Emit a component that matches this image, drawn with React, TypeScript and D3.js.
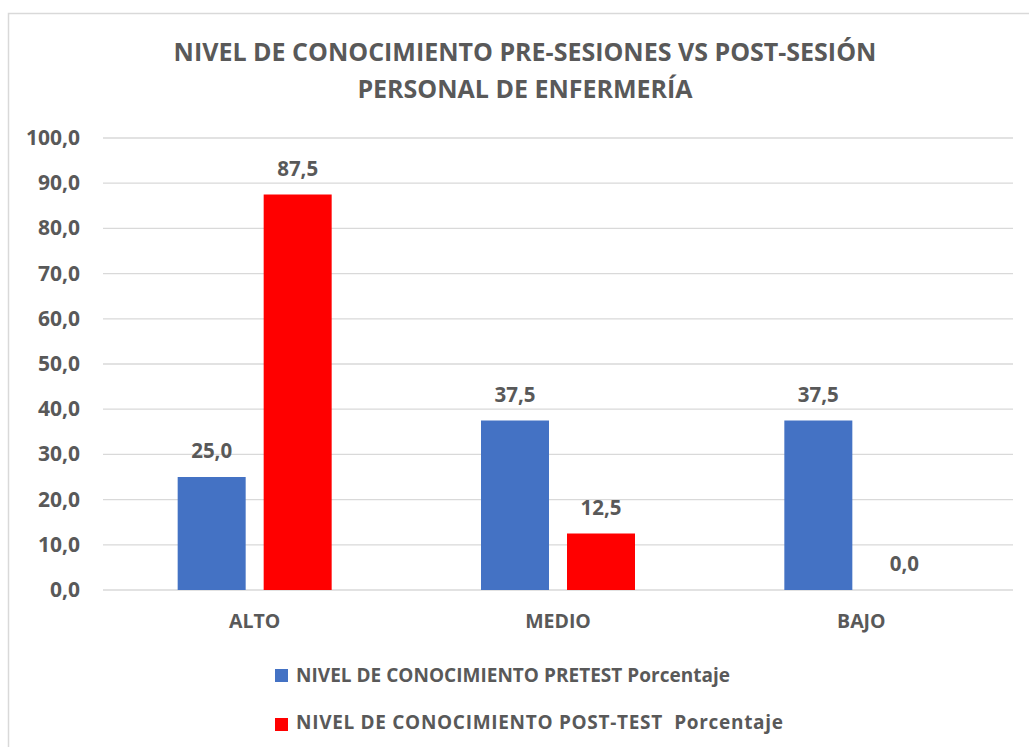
import React from "react";
import * as d3 from "d3";

const categories = ["ALTO", "MEDIO", "BAJO"];
const pretest = [25.0, 37.5, 37.5];
const posttest = [87.5, 12.5, 0.0];
const seriesNames = [
  "NIVEL DE CONOCIMIENTO PRETEST Porcentaje",
  "NIVEL DE CONOCIMIENTO POST-TEST\u00A0 Porcentaje",
];
const seriesColors = ["#4472C4", "#FF0000"];
const yTicks = [0, 10, 20, 30, 40, 50, 60, 70, 80, 90, 100];
const titleLines = [
  "NIVEL DE CONOCIMIENTO PRE-SESIONES VS POST-SESIÓN",
  "PERSONAL DE ENFERMERÍA",
];

const W = 1029;
const H = 747;
const FONT = "'Open Sans', 'DejaVu Sans', sans-serif";
const TXT = "#595959";
const legendWidths = [434, 487];

export default function App() {
  const left = 103;
  const right = 1013;
  const top = 138;
  const bottom = 590;

  const x = d3.scaleBand<string>().domain(categories).range([left, right]).padding(0);
  const y = d3.scaleLinear().domain([0, 100]).range([bottom, top]);
  const barW = 68;
  const gap = 18;
  const groupW = barW * 2 + gap;
  const fmt = (v: number) => d3.format(".1f")(v).replace(".", ",");
  const series = [pretest, posttest];

  return (
    <svg width={W} height={H} style={{ position: "absolute", left: 0, top: 0 }} fontFamily={FONT}>
      <rect x={0} y={0} width={W} height={H} fill="#fff" />
      <rect x={8.5} y={13.5} width={W + 20} height={H + 20} fill="none" stroke="#D9D9D9" strokeWidth={1.5} />
      {titleLines.map((t, i) => (
        <text key={i} x={525} y={61 + i * 37} textAnchor="middle" fontSize={25} fontWeight="bold" fill={TXT}>
          {t}
        </text>
      ))}
      {yTicks.map((t) => (
        <g key={t}>
          <line x1={left} x2={right} y1={y(t)} y2={y(t)} stroke="#D9D9D9" strokeWidth={1.3} />
          <text x={80} y={y(t) + 7} textAnchor="end" fontSize={21} fontWeight="bold" fill={TXT}>
            {fmt(t)}
          </text>
        </g>
      ))}
      {categories.map((c, ci) => {
        const cx = (x(c) as number) + x.bandwidth() / 2;
        return (
          <g key={c}>
            {series.map((s, si) => {
              const bx = cx - groupW / 2 + si * (barW + gap);
              const v = s[ci];
              return (
                <g key={si}>
                  <rect x={bx} y={y(v)} width={barW} height={bottom - y(v)} fill={seriesColors[si]} />
                  <text x={bx + barW / 2} y={y(v) - 19} textAnchor="middle" fontSize={20.5} fontWeight="bold" fill={TXT}>
                    {fmt(v)}
                  </text>
                </g>
              );
            })}
            <text x={cx} y={628} textAnchor="middle" fontSize={19.5} fontWeight="bold" fill={TXT}>
              {c}
            </text>
          </g>
        );
      })}
      {seriesNames.map((n, i) => (
        <g key={n}>
          <rect x={275} y={669 + i * 49} width={13} height={13} fill={seriesColors[i]} />
          <text x={296} y={682 + i * 47} fontSize={19} fontWeight="bold" fill={TXT} textLength={legendWidths[i]} lengthAdjust="spacing">
            {n}
          </text>
        </g>
      ))}
    </svg>
  );
}
